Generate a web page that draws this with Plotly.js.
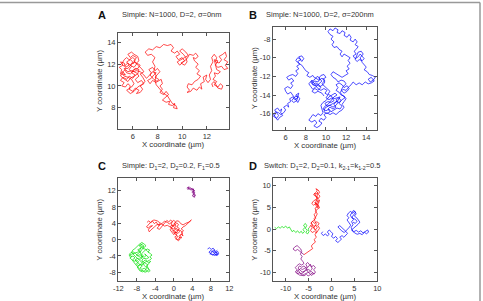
<!DOCTYPE html>
<html><head><meta charset="utf-8">
<script src="https://cdn.plot.ly/plotly-3.0.1.min.js"></script>
<style>html,body{margin:0;padding:0;background:#fff}#c{width:483px;height:301px}</style>
</head><body><div id="c"></div>
<script>
// ---- Panel A (red) ----
const pathA = [[6.0,12.0],[6.2,12.4],[6.0,12.6],[5.7,12.4],[5.5,12.6],[5.3,12.4],[5.1,12.0],[5.3,11.8],[5.6,12.1],[5.9,11.8],[5.7,11.5],[5.9,11.3],[6.2,11.6],[6.5,11.5],[6.4,11.1],[6.1,10.9],[5.8,10.7],[5.6,10.4],[5.3,10.6],[5.1,10.8],[5.0,11.0],[5.2,11.1],
[5.4,11.0],[5.2,11.3],[5.0,11.1],[5.1,11.5],[4.9,11.7],[5.2,11.9],[5.0,12.2],[5.3,12.1],[5.4,11.7],[5.7,11.9],[5.5,12.2],[5.8,12.4],[6.0,12.2],[5.8,11.9],[6.1,11.7],[6.3,12.0],[6.1,12.3],[6.3,12.6],[6.0,12.8],[5.8,12.6],[5.6,12.9],[5.9,13.1],[6.1,12.9],[6.4,12.7],[6.5,12.3],[6.3,12.1],[6.6,11.9],[6.4,11.6],[6.1,11.5],[5.9,11.2],[6.2,11.0],[6.0,10.7],[5.7,10.9],[5.5,10.6],[5.2,10.8],[5.0,10.5],[5.3,10.3],[5.1,10.0],[5.4,9.9],[5.6,10.2],[5.8,10.0],[5.7,9.7],[6.0,9.5],[6.2,9.8],[6.5,9.6],[6.3,9.3],[6.6,9.4],[6.8,9.7],[6.6,10.0],[6.9,10.2],[6.7,10.5],[6.4,10.3],[6.2,10.6],[6.5,10.9],[6.3,11.2],[5.9,11.4],[5.6,11.3],[5.4,11.5],[5.1,11.2],[5.3,10.9],[5.6,10.8],[5.9,10.6],[6.1,10.2],[5.9,9.9],[5.5,9.6],[5.8,9.3],[6.1,9.5],[6.4,9.9],[6.7,10.1],[7.0,10.4],[6.8,10.8],[6.6,11.1],[6.9,11.3],[6.7,11.6],[6.4,11.9],[6.2,12.2],[5.9,12.0],[5.6,11.6],[5.3,11.6],[5.5,11.2],[5.8,11.1],[6.0,11.3],[6.3,11.4],[6.6,11.3],[6.9,11.0],[7.1,10.7],
[7.3,10.9],[7.5,11.2],[7.3,11.5],[7.6,11.7],[7.8,11.4],[8.0,11.6],[8.2,11.3],[8.0,11.0],[7.8,10.8],[8.1,10.6],[7.9,10.3],[7.6,10.5],[7.4,10.2],[7.2,10.5],[7.5,10.7],[7.7,11.0],[7.9,11.2],[7.6,11.3],[7.4,11.0],[7.7,10.6],[8.0,10.4],[8.3,10.6],[8.4,10.2],[8.2,10.0],
[8.4,9.7],[8.2,9.4],[8.5,9.2],[8.7,9.5],[8.9,9.2],[8.6,8.9],[8.4,8.7],[8.7,8.5],[9.0,8.6],[8.9,8.3],[9.2,8.2],[9.4,8.4],[9.3,8.0],[9.6,7.9],[9.5,8.2],[9.2,8.4],[9.0,8.8],[8.8,9.1],[8.5,9.3],[8.3,9.6],[8.1,9.9],[7.9,10.1],
[7.8,10.5],[7.9,10.9],[7.7,11.3],[7.8,11.8],[7.6,12.2],[7.8,12.6],[7.5,12.9],[7.2,12.8],[7.0,13.1],[7.3,13.4],[7.6,13.3],[7.9,13.6],[8.2,13.5],[8.5,13.8],[8.8,13.7],[9.1,13.8],[9.3,13.5],[9.1,13.2],[9.4,13.0],
[9.6,13.2],[9.8,12.9],[9.5,12.7],[9.7,12.4],[10.0,12.6],[10.2,12.3],[9.9,12.1],[10.2,11.9],[10.4,12.2],[10.3,12.6],[10.1,12.9],[9.8,13.2],[10.0,13.4],[10.3,13.1],[10.5,12.8],[10.2,12.6],[9.9,12.4],[9.6,12.2],[9.8,11.9],[10.1,12.2],[10.4,12.5],[10.6,12.9],
[10.9,12.8],[11.1,13.0],[11.3,12.7],[11.1,12.5],[10.9,12.6],[11.0,12.3],[11.3,12.0],[11.1,11.7],[11.4,11.4],[11.2,11.1],[11.5,10.9],[11.3,10.6],[11.0,10.4],[10.8,10.1],[10.5,10.2],[10.4,9.9],[10.6,9.6],[10.4,9.4],[10.7,9.5],[10.9,9.8],[11.2,9.6],[11.4,9.9],[11.6,9.7],[11.5,10.2],[11.8,10.4],[11.7,10.8],[12.0,11.0],[11.9,10.6],[12.1,10.3],
[12.3,10.6],[12.2,11.0],[12.4,11.4],[12.3,11.8],[12.5,12.2],[12.4,12.6],[12.6,12.9],[12.8,12.6],[12.7,12.2],[13.0,12.1],[13.2,12.4],[13.0,12.7],[13.3,12.9],[13.5,13.1],[13.6,12.7],[13.4,12.4],[13.7,12.2],[13.5,11.9],[13.7,11.6],[13.4,11.5],[13.2,11.8],[12.9,11.7],[12.7,11.9],[12.9,12.3],[12.6,12.4],[12.8,11.5],[13.1,11.3],[12.9,11.1],[12.6,11.2],[12.7,10.9],[12.5,10.6],[12.8,10.4],[12.6,10.1],[12.9,9.9],[13.1,10.2],[13.3,10.0],[13.2,9.7],[12.9,9.8],[12.6,10.4],[12.4,10.2],[12.5,9.9]];

// ---- Panel B (blue) ----
const pathB = [[5.0,-16.0],[4.8,-16.3],[5.1,-16.5],[5.3,-16.2],[5.1,-15.9],[4.9,-15.6],[5.2,-15.4],[5.4,-15.7],[5.6,-15.5],[5.5,-15.9],[5.7,-16.2],[5.4,-16.4],[5.2,-16.7],[5.0,-16.4],[4.8,-16.1],[5.0,-15.8],[5.3,-15.9],[5.5,-16.1],[5.8,-15.9],[6.0,-15.6],[5.8,-15.3],[6.1,-15.1],[6.3,-15.3],[6.2,-14.9],
[6.5,-14.7],[6.4,-14.4],[6.7,-14.2],[6.9,-14.5],[7.2,-14.3],[7.0,-14.0],[7.3,-13.8],[7.1,-14.6],[6.8,-14.8],[6.6,-14.6],[6.9,-14.2],[7.2,-14.1],[7.4,-14.4],[7.2,-14.8],[7.0,-14.5],[6.7,-14.0],[6.5,-13.7],[6.2,-13.9],[6.0,-13.6],[5.9,-13.3],[6.2,-13.1],[6.5,-13.3],[6.7,-13.0],[6.5,-12.7],[6.8,-12.5],[6.6,-12.2],[6.3,-12.4],[6.1,-12.1],[6.4,-11.9],[6.7,-11.8],[7.0,-12.0],[7.2,-11.7],[7.0,-11.4],[7.3,-11.2],[7.1,-10.9],[7.4,-10.7],[7.2,-10.4],[7.5,-10.2],[7.3,-9.9],[7.6,-9.8],[7.8,-10.1],[7.6,-10.4],[7.4,-10.1],[7.2,-10.0],[7.0,-10.3],[7.3,-10.6],[7.6,-10.8],[7.8,-11.1],[8.0,-11.4],[8.3,-11.6],[8.1,-11.9],
[8.4,-12.1],[8.7,-11.9],[8.9,-12.2],[9.2,-12.0],[9.4,-12.3],[9.2,-12.6],[8.9,-12.5],[8.6,-12.7],[8.8,-13.0],[9.1,-12.9],[9.4,-13.1],[9.7,-12.9],[9.9,-12.6],[9.7,-12.3],[10.0,-12.1],[9.8,-11.8],[9.5,-11.9],[9.3,-12.2],[9.6,-12.5],[9.3,-12.8],[9.0,-13.2],[8.7,-13.4],[8.5,-13.1],[8.3,-12.8],[8.6,-12.4],[8.9,-12.8],[9.2,-13.3],[9.5,-13.5],[9.8,-13.3],[10.1,-13.5],[9.9,-13.8],
[10.2,-14.0],[10.0,-14.3],[10.3,-14.5],[10.6,-14.3],[10.8,-14.6],[10.5,-14.8],[10.2,-14.7],[9.9,-14.9],[10.1,-15.2],[10.4,-15.1],[10.7,-15.3],[11.0,-15.1],[11.2,-14.8],[11.0,-14.5],[11.3,-14.3],[11.5,-14.6],[11.3,-14.9],[11.6,-15.2],[11.4,-15.5],[11.1,-15.4],[10.8,-15.6],[10.5,-15.8],[10.3,-15.5],[10.0,-15.7],[9.7,-15.5],[9.9,-15.2],[10.2,-15.0],[10.5,-14.6],[10.8,-14.2],[11.1,-14.0],[10.9,-13.8],[10.6,-14.0],[10.3,-14.2],[10.0,-14.6],[9.7,-14.8],[9.5,-15.1],[9.7,-15.9],
[9.5,-16.2],[9.2,-16.0],[9.0,-16.3],[8.7,-16.1],[8.5,-16.4],[8.3,-16.7],[8.6,-16.9],[8.9,-16.7],[9.1,-17.0],[8.8,-17.3],[9.1,-17.5],[9.4,-17.3],[9.6,-17.0],[9.3,-16.8],[9.5,-16.5],[9.8,-16.7],[10.0,-16.4],[9.8,-16.1],[10.1,-15.9],
[10.4,-16.1],[10.7,-15.9],[11.0,-16.1],[11.3,-15.8],[11.6,-15.6],[11.8,-15.3],[11.6,-15.0],[11.8,-14.7],[12.0,-14.4],[11.8,-14.1],[11.5,-14.0],[11.3,-13.7],[11.0,-13.5],[11.2,-13.2],[11.0,-12.9],[11.3,-12.7],[11.6,-12.9],[11.8,-13.2],[12.1,-13.0],[12.3,-13.3],[12.1,-13.6],[11.8,-13.8],[11.5,-13.5],[11.7,-13.1],[12.0,-12.8],[11.8,-12.5],[11.5,-12.4],[11.2,-12.6],[11.0,-12.3],[10.7,-12.1],[10.5,-11.8],[10.7,-11.5],[11.0,-11.7],[11.3,-11.9],[11.6,-12.1],[11.9,-11.9],
[12.2,-11.7],[12.0,-11.4],[12.3,-11.2],[12.1,-10.9],[12.4,-10.6],[12.2,-10.3],[12.4,-10.0],[12.1,-9.8],[11.8,-9.6],[11.6,-9.9],[11.4,-9.6],[11.6,-9.3],[11.3,-9.1],[11.1,-8.8],[10.8,-8.9],[10.6,-8.6],[10.8,-8.3],[10.5,-8.0],[10.7,-7.7],[10.4,-7.5],[10.2,-7.2],[10.4,-6.9],[10.7,-7.1],[10.9,-6.8],[11.2,-7.0],[11.1,-7.3],[11.4,-7.4],[11.6,-7.1],[11.9,-7.3],[11.8,-7.6],[12.1,-7.8],[12.3,-7.5],[12.5,-7.8],[12.4,-8.1],[12.7,-8.3],[12.9,-8.0],[13.1,-8.3],[12.9,-8.6],[13.2,-8.8],[13.0,-9.1],
[12.8,-9.3],[13.0,-9.6],[12.7,-9.8],[12.9,-10.1],[13.2,-9.9],[13.4,-9.6],[13.6,-9.8],[13.8,-10.1],[13.6,-10.3],[13.3,-10.2],[13.1,-10.4],[12.9,-10.2],[13.2,-9.4],[13.5,-9.3],[13.7,-9.6],[13.4,-10.0],[13.6,-10.5],[13.8,-10.8],
[14.0,-11.0],[13.8,-11.3],[14.1,-11.5],[14.3,-11.8],[14.6,-11.9],[14.9,-12.1],[14.7,-12.4],[14.4,-12.6],[14.2,-12.3],[14.5,-12.1],[14.8,-12.5],[14.5,-12.7],[14.2,-12.8],[13.9,-12.6],[13.6,-12.9],[13.3,-12.7],[13.0,-12.9],[12.7,-12.6],[12.5,-12.9],
[12.2,-13.2],[12.0,-13.5],[11.7,-13.4],[11.4,-13.7],[11.6,-14.0],[11.9,-14.3],[11.6,-14.5],[11.3,-14.8],[11.0,-14.7],[10.8,-15.0],[11.0,-15.3],[10.7,-15.5],[10.4,-15.3],[10.2,-15.5],[10.4,-15.8],[10.1,-16.0],[9.8,-15.8],[9.9,-15.4],[10.2,-15.2],[10.6,-15.0],[10.9,-14.8],[11.2,-14.6],[11.4,-14.2],[11.1,-14.3],[10.8,-14.4],[10.5,-14.1],[10.2,-13.9],[10.4,-13.6],[10.1,-13.3],[9.8,-13.1],[9.6,-12.8],[9.9,-12.4],[9.6,-12.2],[9.3,-12.4],[9.0,-12.2],[8.8,-12.4],[8.5,-12.6],[8.7,-12.9],[9.0,-12.7],[9.3,-12.9],[9.5,-13.2],[9.2,-13.5],[8.9,-13.3],[8.6,-13.6],[8.9,-13.8],[9.2,-13.6],[9.6,-13.8],[9.8,-14.1]];

// ---- Panel C ----
const pathCpurple = [[2.8,12.6],[3.2,12.9],[3.0,12.3],[3.5,12.5],[3.9,12.1],[4.3,12.4],[4.1,11.8],[4.6,11.5],[4.2,11.1],[4.7,10.8],[4.4,10.4],[4.0,10.7],[4.3,11.2],[3.9,11.6],[4.5,12.0],[3.4,12.8],[3.1,12.6],[3.6,12.2],[4.0,12.5],[4.4,11.9],[4.2,11.4],[4.6,11.1],[4.3,10.6],[4.6,10.3]];
const pathCred = [[-5.8,4.2],[-5.4,4.6],[-5.0,4.1],[-4.6,4.5],[-4.2,3.9],[-3.8,4.3],[-3.4,3.6],[-3.0,3.9],[-3.3,3.2],[-3.6,2.8],[-3.1,2.5],[-2.7,3.0],[-2.3,3.6],[-1.9,4.1],[-1.5,4.7],[-1.1,4.3],[-0.7,4.8],[-0.3,4.4],[-0.6,3.8],[-0.2,3.3],[0.3,3.6],[0.6,4.1],[1.0,3.7],[0.7,3.1],[1.2,2.7],[0.8,2.2],[0.3,2.5],[-0.2,2.0],[0.2,1.5],[0.6,1.0],[0.2,0.6],[0.6,0.1],[1.0,-0.3],[1.4,0.2],[1.1,0.8],[1.6,1.3],[2.0,0.9],[1.7,1.7],[2.1,2.2],[1.6,2.6],[2.0,3.1],[2.5,3.4],[3.0,3.9],[3.4,4.5],[3.8,4.8],[3.3,4.3],[2.6,4.0],[2.0,3.6],[1.5,3.9],[1.1,4.5],[0.6,4.6],[0.2,4.0],[-0.4,3.0],[-0.8,2.4],[-0.4,1.8],[0.0,1.2],[0.4,1.9],[0.9,1.5],[1.3,2.0],[0.5,2.8],[-0.1,2.6],[-0.9,3.1],[-1.4,3.5],[-2.0,3.3],[-2.6,3.7],[-3.1,4.2],[-3.6,4.6],[-4.3,4.8],[-4.9,4.4],[-5.5,3.6],[-5.9,3.1],[-5.5,2.8],[-5.1,3.3],[-4.6,3.4],[-5.2,2.9],[-5.5,2.4],[-5.3,1.9],[-5.0,2.3],[-4.6,2.8],[-4.1,3.2],[-3.6,3.7],[-3.1,3.5],[-2.5,4.0],[-2.0,4.5],[-1.4,4.2],[-0.9,3.8],[-0.5,4.3],[0.0,4.7],[0.4,4.3],[0.1,3.9],[0.5,3.3],[0.2,2.9],[-0.3,3.6],[-0.7,3.3],[-0.3,2.3],[0.3,2.0],[0.8,0.6],[0.4,0.2],[0.9,-0.1],[1.3,0.6],[1.7,0.4],[1.4,1.0],[1.9,1.6],[1.5,2.2],[1.0,2.4],[0.6,1.7],[0.1,1.8]];
const pathCgreen = [[-6.8,-1.0],[-7.2,-1.5],[-6.7,-1.8],[-7.3,-2.2],[-7.8,-2.5],[-7.4,-2.9],[-8.0,-3.1],[-8.6,-3.3],[-9.2,-3.6],[-9.7,-3.9],[-9.3,-4.3],[-8.8,-4.0],[-8.4,-4.5],[-8.9,-4.9],[-8.5,-5.3],[-8.0,-5.0],[-7.6,-5.5],[-8.1,-5.9],[-7.7,-6.4],[-7.2,-6.0],[-6.8,-6.5],[-7.3,-6.9],[-6.9,-7.3],[-6.4,-7.0],[-5.9,-7.4],[-5.5,-7.9],[-5.1,-7.6],[-5.5,-7.1],[-6.0,-6.6],[-5.6,-6.2],[-6.1,-5.8],[-6.6,-5.4],[-6.2,-5.0],[-5.7,-5.3],[-5.2,-5.0],[-4.8,-4.6],[-5.2,-4.2],[-4.7,-3.8],[-5.1,-3.4],[-5.6,-3.0],[-5.2,-2.6],[-5.7,-2.3],[-6.2,-2.6],[-6.6,-3.0],[-7.0,-3.5],[-6.6,-4.0],[-7.1,-4.4],[-7.6,-4.1],[-8.1,-3.8],[-7.7,-3.4],[-7.2,-3.0],[-6.9,-2.4],[-6.4,-2.0],[-6.0,-1.5],[-6.4,-1.1],[-6.9,-0.7],[-7.4,-1.1],[-7.9,-1.7],[-8.4,-2.2],[-8.9,-2.6],[-9.1,-3.1],[-8.6,-3.8],[-8.2,-4.3],[-7.7,-4.8],[-7.2,-5.2],[-6.8,-5.8],[-7.4,-6.3],[-7.9,-6.7],[-7.4,-7.6],[-6.8,-7.9],[-6.2,-7.6],[-5.9,-6.9],[-6.4,-6.3],[-6.9,-5.0],[-6.5,-4.6],[-5.9,-4.7],[-5.4,-4.4],[-6.3,-3.5],[-6.0,-3.9],[-6.4,-4.3],[-6.9,-4.1],[-7.3,-3.7],[-7.8,-3.9],[-8.3,-3.4],[-8.8,-3.0],[-9.3,-3.2],[-9.6,-3.6],[-9.1,-4.1],[-9.5,-4.5],[-9.0,-5.0],[-8.6,-5.7],[-8.2,-6.2],[-7.6,-6.9],[-7.2,-7.5],[-6.6,-7.6],[-6.3,-8.0],[-5.8,-7.8],[-5.4,-7.3],[-5.8,-6.4],[-5.3,-5.8],[-5.0,-5.3],[-5.4,-5.6],[-6.0,-5.3],[-6.5,-5.9],[-7.0,-6.3],[-7.6,-5.9],[-8.1,-5.4],[-8.4,-5.0],[-7.9,-4.6],[-7.3,-4.8],[-6.8,-4.5],[-7.4,-2.6],[-7.1,-2.0],[-7.5,-1.4],[-7.0,-1.2],[-6.5,-1.5],[-6.7,-2.2],[-6.2,-2.3],[-5.8,-2.7],[-5.4,-3.2]];
const pathCblue = [[7.3,-2.3],[7.7,-2.0],[8.1,-2.4],[8.5,-2.1],[8.9,-2.6],[8.6,-3.0],[9.1,-3.2],[9.5,-2.9],[9.7,-3.4],[9.3,-3.7],[8.8,-3.5],[8.4,-3.8],[8.0,-3.4],[7.6,-3.1],[7.9,-2.7],[8.3,-2.9],[8.7,-3.3],[9.2,-3.9],[9.6,-3.7],[9.0,-2.8],[8.6,-2.5],[8.2,-3.1],[7.8,-3.5],[8.3,-3.6],[8.9,-3.9],[9.4,-3.4],[9.0,-3.0],[9.4,-2.6]];

// ---- Panel D ----
const pathDgreen = [[-12.4,0.4],[-12.0,0.1],[-11.6,0.5],[-11.2,0.2],[-10.8,0.6],[-10.4,0.3],[-10.0,0.7],[-9.6,0.2],[-9.2,0.5],[-8.9,0.0],[-8.6,-0.6],[-8.2,-0.3],[-7.8,-0.8],[-7.4,-0.4],[-7.0,-0.9],[-6.6,-0.5],[-6.3,-1.0],[-5.9,-0.6],[-6.2,-0.1],[-5.8,0.4],[-6.1,0.9],[-5.7,1.3],[-5.4,0.8],[-5.7,0.2],[-5.3,-0.3],[-5.6,-0.8],[-5.2,-1.1],[-4.9,-0.6],[-5.1,0.0],[-4.8,0.4]];
const pathDred = [[-4.8,0.4],[-4.5,0.9],[-4.2,0.3],[-4.6,-0.3],[-4.2,-0.8],[-3.7,-0.5],[-3.3,-0.9],[-2.9,-0.4],[-2.6,0.2],[-3.0,0.8],[-2.7,1.3],[-3.2,1.7],[-3.7,1.3],[-4.1,1.8],[-4.5,1.4],[-4.2,1.0],[-3.8,0.6],[-3.4,0.9],[-3.1,0.3],[-3.5,-0.2],[-3.9,0.2],[-3.6,0.7],[-3.3,1.2],[-3.6,1.8],[-3.8,2.4],[-3.4,2.9],[-3.1,3.5],[-3.5,4.1],[-3.1,4.6],[-2.6,4.9],[-2.9,5.5],[-3.4,5.9],[-3.9,5.5],[-4.3,5.9],[-3.9,6.5],[-3.4,6.8],[-3.0,6.3],[-2.6,6.7],[-2.8,6.0],[-3.2,5.6],[-3.6,6.2],[-3.3,5.2],[-2.9,4.9],[-3.0,7.3],[-3.5,7.6],[-3.9,7.9],[-3.5,8.4],[-3.1,8.8],[-3.4,9.3],[-2.9,9.0],[-2.6,8.5],[-2.9,8.0],[-2.5,7.6],[-2.9,7.0],[-3.3,7.3],[-3.7,8.2],[-3.3,8.1],[-3.0,8.5],[-3.4,6.2],[-3.0,5.2],[-3.6,4.8],[-3.3,4.0],[-3.8,3.3],[-3.4,2.5],[-3.9,2.0],[-4.4,1.5],[-4.1,0.6],[-3.6,0.0],[-3.2,-0.6],[-3.6,-1.3],[-3.3,-1.9],[-3.8,-2.4],[-3.5,-3.0],[-4.0,-3.4],[-4.4,-3.9],[-4.1,-4.5],[-4.6,-4.9],[-5.1,-5.2],[-5.5,-5.7],[-6.0,-5.9]];
const pathDpurple = [[-6.0,-5.9],[-6.5,-5.5],[-6.9,-5.0],[-7.4,-4.7],[-7.9,-5.0],[-8.4,-4.6],[-8.0,-4.1],[-7.5,-3.8],[-7.1,-4.2],[-6.7,-4.6],[-6.5,-5.2],[-6.8,-5.8],[-6.4,-6.3],[-6.7,-6.9],[-6.3,-7.4],[-6.0,-7.9],[-6.5,-8.3],[-7.0,-8.0],[-7.5,-8.4],[-7.9,-8.9],[-7.5,-9.4],[-7.9,-9.9],[-7.4,-10.3],[-6.9,-10.0],[-6.5,-10.5],[-6.0,-10.8],[-5.5,-10.4],[-5.1,-10.8],[-4.6,-10.5],[-4.2,-10.1],[-3.8,-10.4],[-3.5,-9.9],[-3.9,-9.4],[-3.5,-8.9],[-3.9,-8.4],[-4.4,-8.7],[-4.8,-8.2],[-5.2,-7.7],[-5.6,-8.1],[-5.3,-8.7],[-5.8,-9.0],[-6.3,-9.3],[-6.8,-9.1],[-7.2,-9.6],[-6.8,-10.3],[-6.2,-10.1],[-5.7,-9.6],[-5.1,-9.3],[-4.6,-9.6],[-4.2,-9.2],[-4.6,-8.1],[-5.0,-8.6],[-5.5,-9.1],[-5.9,-9.7],[-6.4,-9.9],[-6.9,-9.5],[-7.3,-9.0],[-7.0,-8.5],[-6.5,-8.8],[-6.0,-8.5],[-5.6,-8.9],[-5.2,-9.8],[-4.8,-10.2],[-4.3,-10.7],[-3.9,-10.2],[-4.4,-9.8],[-4.9,-9.9],[-5.4,-10.1],[-5.9,-10.4],[-6.4,-10.7],[-7.0,-10.6],[-7.6,-10.1],[-7.2,-9.3]];
const pathDblue = [[-1.9,-0.6],[-2.2,-1.0],[-1.8,-1.5],[-1.3,-1.1],[-0.9,-1.6],[-0.5,-1.2],[-0.9,-0.7],[-0.5,-0.2],[-0.1,-0.6],[0.3,-1.1],[0.0,-1.7],[0.5,-2.1],[0.9,-1.7],[1.3,-2.2],[0.9,-2.7],[1.4,-3.1],[1.8,-2.7],[2.2,-2.3],[1.8,-1.9],[2.3,-1.5],[2.7,-1.9],[3.1,-1.5],[3.5,-1.0],[3.1,-0.5],[2.7,-0.1],[2.2,0.3],[1.8,0.8],[1.4,0.5],[2.2,-0.4],[2.8,-0.8],[3.3,-0.3],[3.8,0.3],[4.2,0.9],[3.8,1.5],[3.4,2.1],[3.8,2.6],[3.4,3.1],[3.7,3.7],[4.2,4.1],[4.6,3.6],[5.0,4.1],[5.4,3.5],[5.0,3.0],[5.5,2.6],[5.9,2.1],[6.2,1.6],[5.8,1.1],[5.3,0.7],[4.8,0.3],[4.4,-0.2],[4.9,-0.6],[5.4,-0.3],[5.9,-0.7],[6.4,-0.4],[6.9,-0.9],[7.4,-0.5],[7.9,-0.2],[8.1,-0.7],[7.6,-1.1],[7.2,-0.7],[6.7,-1.3],[6.2,-1.0],[5.6,-1.2],[5.1,-0.9],[4.6,-0.5],[4.3,0.4],[4.7,1.0],[4.4,1.7],[4.8,2.2],[4.5,2.8],[4.9,3.4],[5.3,3.9],[4.8,4.3],[4.4,3.8],[4.1,3.2],[4.5,2.5],[5.1,2.3],[5.6,1.8],[5.2,1.3],[4.7,1.6]];

// ---- Ticks / labels ----
const ticksAx = [6,8,10,12], ticksAy = [8,10,12,14];
const ticksBx = [6,8,10,12,14], ticksBy = [-16,-14,-12,-10,-8];
const ticksCx = [-12,-8,-4,0,4,8,12], ticksCy = [-8,-4,0,4,8,12];
const ticksDx = [-10,-5,0,5,10], ticksDy = [-10,-5,0,5,10];
const panelLetters = ['A','B','C','D'];
const panelTitles = ['Simple: N=1000, D=2, σ=0nm','Simple: N=1000, D=2, σ=200nm',
  'Simple: D<sub>1</sub>=2, D<sub>2</sub>=0.2, F<sub>1</sub>=0.5',
  'Switch: D<sub>1</sub>=2, D<sub>2</sub>=0.1, k<sub>2-1</sub>=k<sub>1-2</sub>=0.5'];
const xTitle = 'X coordinate (µm)', yTitle = 'Y coordinate (µm)';

const W = 483, H = 301;
const RED = '#ff0000', BLUE = '#0000ff', GREEN = '#00e000', PURPLE = '#800080';
function tr(path, color, ax){
  return {x: path.map(p=>p[0]), y: path.map(p=>p[1]), type:'scatter', mode:'lines',
    line:{color:color, width:0.7}, xaxis:'x'+ax, yaxis:'y'+ax, hoverinfo:'skip'};
}
const data = [
  tr(pathA, RED, ''),
  tr(pathB, BLUE, '2'),
  tr(pathCpurple, PURPLE, '3'), tr(pathCred, RED, '3'), tr(pathCgreen, GREEN, '3'), tr(pathCblue, BLUE, '3'),
  tr(pathDgreen, GREEN, '4'), tr(pathDred, RED, '4'), tr(pathDpurple, PURPLE, '4'), tr(pathDblue, BLUE, '4')
];
function px(x0,x1){return [x0/W, x1/W];}
function py(top,bot){return [1-bot/H, 1-top/H];}
function axis(domain, range, vals, anchor){
  return {domain:domain, range:range, tickvals:vals, ticktext:vals.map(String), anchor:anchor,
    showline:true, mirror:'ticks', linecolor:'#555', linewidth:1, ticks:'inside', ticklen:3,
    tickcolor:'#555', tickwidth:1, showgrid:false, zeroline:false, fixedrange:true,
    tickfont:{size:7.5, color:'#333'}};
}
const boxes = [
  {x:[118,229], y:[33,129], xr:[4.8,13.8], yr:[6.05,14.85], tx:ticksAx, ty:ticksAy},
  {x:[273,377.3], y:[27,129.5], xr:[4.74,15.1], yr:[-17.7,-6.7], tx:ticksBx, ty:ticksBy},
  {x:[118.3,229.3], y:[178.3,280.7], xr:[-12,12], yr:[-10.06,15], tx:ticksCx, ty:ticksCy},
  {x:[273.3,377.3], y:[178.3,280.7], xr:[-12.7,10], yr:[-11.9,11.7], tx:ticksDx, ty:ticksDy}
];
const layout = {width:W, height:H, margin:{l:0,r:0,t:0,b:0}, showlegend:false,
  paper_bgcolor:'#fff', plot_bgcolor:'#fff',
  font:{family:'Liberation Sans, Arial, sans-serif', size:7.5, color:'#333'},
  annotations:[], shapes:[
    {type:'line', xref:'paper', yref:'paper', x0:0, x1:480/W, y0:1-2.5/H, y1:1-2.5/H, line:{color:'#999', width:1.5}},
    {type:'line', xref:'paper', yref:'paper', x0:480/W, x1:480/W, y0:0, y1:1-2.5/H, line:{color:'#999', width:1.5}}
  ]};
const letterPos = [[101.7,15],[252.5,15],[101.7,166],[252.5,166]];
const titlePos = [[171,15],[320,15],[171,166],[322.7,166]];
boxes.forEach((b,i)=>{
  const s = i===0 ? '' : String(i+1);
  layout['xaxis'+s] = axis(px(b.x[0],b.x[1]), b.xr, b.tx, 'y'+s);
  layout['yaxis'+s] = axis(py(b.y[0],b.y[1]), b.yr, b.ty, 'x'+s);
  const cx = (b.x[0]+b.x[1])/2, cy = (b.y[0]+b.y[1])/2;
  layout.annotations.push({text:xTitle, xref:'paper', yref:'paper', x:cx/W, y:1-(b.y[1]+16)/H,
    xanchor:'center', yanchor:'middle', showarrow:false, font:{size:7.8, color:'#333'}});
  layout.annotations.push({text:yTitle, xref:'paper', yref:'paper', x:(b.x[0]-19)/W, y:1-cy/H,
    xanchor:'center', yanchor:'middle', textangle:-90, showarrow:false, font:{size:7.8, color:'#333'}});
  layout.annotations.push({text:'<b>'+panelLetters[i]+'</b>', xref:'paper', yref:'paper', x:letterPos[i][0]/W, y:1-letterPos[i][1]/H,
    xanchor:'center', yanchor:'middle', showarrow:false, font:{size:11, color:'#111'}});
  layout.annotations.push({text:panelTitles[i], xref:'paper', yref:'paper', x:titlePos[i][0]/W, y:1-titlePos[i][1]/H,
    xanchor:'center', yanchor:'middle', showarrow:false, font:{size:7.5, color:'#333'}});
});
Plotly.newPlot('c', data, layout, {staticPlot:true, displayModeBar:false});
</script></body></html>
